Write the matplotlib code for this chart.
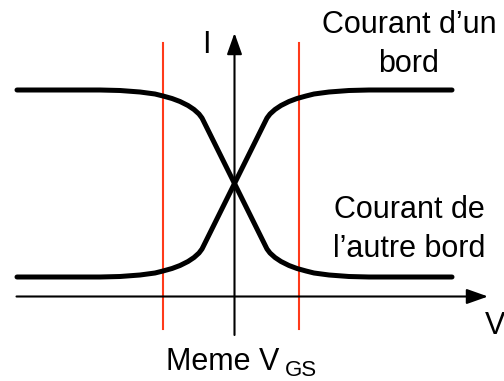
import matplotlib
matplotlib.use("Agg")
import matplotlib.pyplot as plt

plt.rcParams['font.family'] = ['Liberation Sans', 'DejaVu Sans']

# Schematic data (V, I) in arbitrary units, origin at the axes crossing
v_pts = [-217.5, -134.5, -114.5, -94.5, -79.5, -71.5, -62.5, -54.5, -46.5, -40.5, -35.5, -32.5, -31,
         31, 32.5, 35.5, 40.5, 46.5, 54.5, 62.5, 71.5, 79.5, 94.5, 114.5, 134.5, 217.5]
i_one_edge = [206.5, 206.5, 206, 204.5, 202.5, 200.5, 198, 195, 191, 187, 182.5, 178.5, 175.5,
              50.5, 47.5, 43.5, 39, 35, 31, 28, 25.5, 23.5, 21.5, 20, 19.5, 19.5]
i_other_edge = [19.5, 19.5, 20, 21.5, 23.5, 25.5, 28, 31, 35, 39, 43.5, 47.5, 50.5,
                175.5, 178.5, 182.5, 187, 191, 195, 198, 200.5, 202.5, 204.5, 206, 206.5, 206.5]
v_same = [-71.5, 64]          # the two "same VGS" markers
label_top = ["Courant d\u2019un", "bord"]
label_bot = ["Courant de", "l\u2019autre bord"]
x_label = "V"
y_label = "I"
bottom_label = "Meme V"
bottom_sub = "GS"

fig = plt.figure(figsize=(5.04, 3.81), dpi=100)
ax = fig.add_axes([0, 0, 1, 1])
ax.set_xlim(-234.5, 269.5)
ax.set_ylim(-84.5, 296.5)
ax.axis('off')

red = '#ff3a1a'
for v in v_same:
    ax.plot([v, v], [-32.5, 253.5], color=red, lw=1.5, zorder=1)

# axes with arrows
arrow = dict(arrowstyle='-|>,head_length=0.65,head_width=0.23',
             lw=1.5, color='k', mutation_scale=20, shrinkA=0, shrinkB=0)
ax.annotate('', xy=(253.5, 0), xytext=(-218, 0), arrowprops=arrow, zorder=2)
ax.annotate('', xy=(0, 263.5), xytext=(0, -38.5), arrowprops=arrow, zorder=2)

ax.plot(v_pts, i_one_edge, color='k', lw=3.6, solid_capstyle='round',
        solid_joinstyle='round', zorder=3)
ax.plot(v_pts, i_other_edge, color='k', lw=3.6, solid_capstyle='round',
        solid_joinstyle='round', zorder=3)

fs = 22
ax.text(174.5, 263.5, label_top[0], fontsize=fs, ha='center', va='baseline')
ax.text(174.5, 224.5, label_top[1], fontsize=fs, ha='center', va='baseline')
ax.text(174.5, 78.5, label_bot[0], fontsize=fs, ha='center', va='baseline')
ax.text(174.5, 39.5, label_bot[1], fontsize=fs, ha='center', va='baseline')
ax.text(-28.5, 243.5, y_label, fontsize=fs, ha='center', va='baseline')
ax.text(250.5, -37.5, x_label, fontsize=fs, ha='left', va='baseline')
ax.text(-68.5, -73.5, bottom_label, fontsize=fs, ha='left', va='baseline')
ax.text(50.5, -80.0, bottom_sub, fontsize=16, ha='left', va='baseline')

fig.savefig('out.png', dpi=100)
